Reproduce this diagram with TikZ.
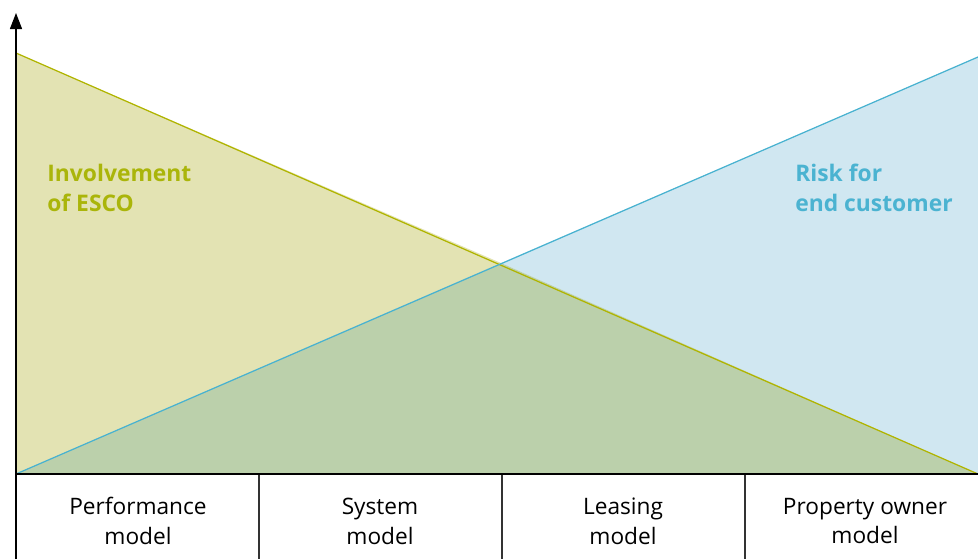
\documentclass[tikz,border=0pt]{standalone}
\usepackage{fontspec}
\setmainfont{Open Sans}
\usetikzlibrary{arrows.meta}
\definecolor{escofill}{HTML}{E3E3B3}
\definecolor{escoline}{HTML}{B0B400}
\definecolor{escotext}{HTML}{AAB50A}
\definecolor{riskfill}{HTML}{D0E7F1}
\definecolor{riskline}{HTML}{48B2D0}
\definecolor{risktext}{HTML}{4BB3D1}
\definecolor{bothfill}{HTML}{BBD0AB}
\tikzset{
	modeltext/.style={align=center,font=\fontsize{12.9}{17}\selectfont,inner sep=0pt},
	areatext/.style={align=left,anchor=north west,font=\fontsize{13}{17}\bfseries,inner sep=0pt}
}
\begin{document}
\begin{tikzpicture}[x=0.02cm,y=-0.02cm]
	\useasboundingbox (0,0) rectangle (978,559);
	\coordinate (o) at (16,474);%Ursprung
	\coordinate (tl) at (16,53);
	\coordinate (tr) at (978,57);
	\coordinate (br) at (978,474);
	\coordinate (x) at (501,263);%Schnittpunkt

	\fill[escofill] (o) -- (tl) -- (x) -- cycle;%ESCO
	\fill[riskfill] (br) -- (tr) -- (x) -- cycle;%Risiko
	\fill[bothfill] (o) -- (x) -- (br) -- cycle;%beide
	\draw[escoline,line width=0.7pt] (tl) -- (br);
	\draw[riskline,line width=0.7pt] (o) -- (tr);

	\draw[black!80,line width=0.6pt] (259,474) -- (259,559);%Spalten
	\draw[black!80,line width=0.6pt] (502,474) -- (502,559);
	\draw[black!80,line width=0.6pt] (745,474) -- (745,559);
	\draw[line width=1.1pt] (o) -- (br);%Grundlinie
	\draw[line width=0.8pt,-{Triangle[length=0.32cm,width=0.24cm]}] (16,559) -- (16,13);%Achse

	\node[areatext,text=escotext] (esco) at (47,164) {Involvement\\of ESCO};
	\node[areatext,text=risktext] (risk) at (795,164) {Risk for\\end customer};

	\node[modeltext] (perf) at (138,521) {Performance\\model};
	\node[modeltext] (sys) at (380,521) {System\\model};
	\node[modeltext] (lease) at (623,521) {Leasing\\model};
	\node[modeltext] (owner) at (865,521) {Property owner\\model};
\end{tikzpicture}
\end{document}
